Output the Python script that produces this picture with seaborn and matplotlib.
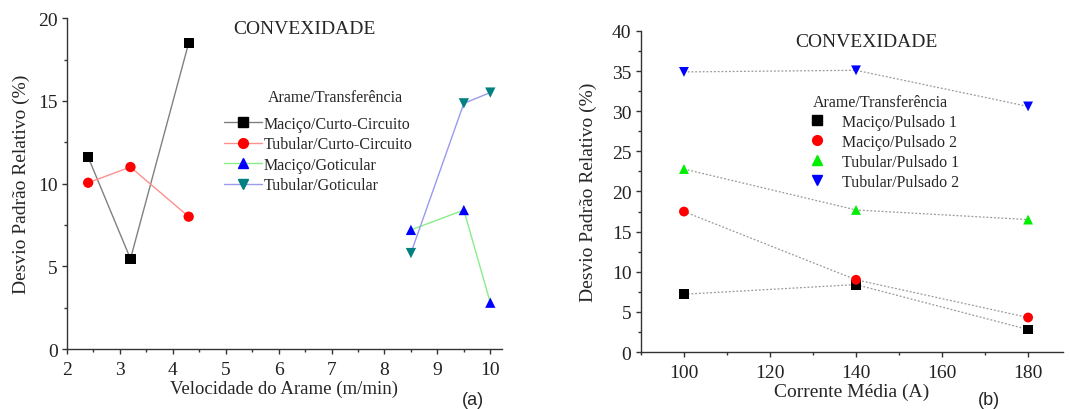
import matplotlib
matplotlib.use("Agg")
import matplotlib.pyplot as plt
from matplotlib.lines import Line2D
from matplotlib.ticker import MultipleLocator
import seaborn as sns
import pandas as pd

# ---- data panel (a) ----
a_series = ["Maciço/Curto-Circuito", "Tubular/Curto-Circuito", "Maciço/Goticular", "Tubular/Goticular"]
a_x_cc = [2.4, 3.2, 4.3]
a_x_got = [8.5, 9.5, 10.0]
a_mac_cc = [11.6, 5.45, 18.5]
a_tub_cc = [10.05, 11.0, 8.0]
a_mac_got = [7.2, 8.4, 2.8]
a_tub_got = [5.8, 14.85, 15.5]

# ---- data panel (b) ----
b_series = ["Maciço/Pulsado 1", "Maciço/Pulsado 2", "Tubular/Pulsado 1", "Tubular/Pulsado 2"]
b_x = [100, 140, 180]
b_mac_p1 = [7.2, 8.4, 2.8]
b_mac_p2 = [17.5, 9.0, 4.3]
b_tub_p1 = [22.8, 17.7, 16.5]
b_tub_p2 = [34.9, 35.1, 30.6]

sns.set_theme(style="ticks")
plt.rcParams["font.family"] = ["Liberation Serif", "DejaVu Serif"]
plt.rcParams["axes.linewidth"] = 1.0
plt.rcParams["xtick.direction"] = "out"
plt.rcParams["ytick.direction"] = "out"

rows = []
for name, xs, ys in zip(a_series, [a_x_cc, a_x_cc, a_x_got, a_x_got],
                        [a_mac_cc, a_tub_cc, a_mac_got, a_tub_got]):
    for x, y in zip(xs, ys):
        rows.append({"x": x, "y": y, "s": name})
dfa = pd.DataFrame(rows)

rows = []
for name, ys in zip(b_series, [b_mac_p1, b_mac_p2, b_tub_p1, b_tub_p2]):
    for x, y in zip(b_x, ys):
        rows.append({"x": x, "y": y, "s": name})
dfb = pd.DataFrame(rows)

fig = plt.figure(figsize=(10.7, 4.1), dpi=100)
axa = fig.add_axes([0.0626, 0.1463, 0.4065, 0.807])
axb = fig.add_axes([0.599, 0.139, 0.394, 0.783])

# panel a
a_line_colors = ["#808080", "#ff9090", "#88ee88", "#9a9aee"]
a_mark_colors = ["#000000", "#ff0000", "#0000ff", "#008080"]
a_markers = ["s", "o", "^", "v"]
sns.lineplot(data=dfa, x="x", y="y", hue="s", hue_order=a_series,
             palette=a_line_colors, ax=axa, legend=False, lw=1.0, sort=False,
             estimator=None)
for name, c, m in zip(a_series, a_mark_colors, a_markers):
    sub = dfa[dfa["s"] == name]
    sns.scatterplot(data=sub, x="x", y="y", color=c, marker=m, s=55,
                    edgecolor="none", ax=axa, legend=False, zorder=3)

axa.set_xlim(2, 10.22)
axa.set_ylim(0, 20)
axa.xaxis.set_major_locator(MultipleLocator(1))
axa.xaxis.set_minor_locator(MultipleLocator(0.5))
axa.yaxis.set_major_locator(MultipleLocator(5))
axa.yaxis.set_minor_locator(MultipleLocator(2.5))
axa.set_xlabel("Velocidade do Arame (m/min)", fontsize=13.5, labelpad=1)
axa.set_ylabel("Desvio Padrão Relativo (%)", fontsize=14, labelpad=6)
axa.text(0.547, 0.995, "CONVEXIDADE", transform=axa.transAxes, ha="center",
         va="top", fontsize=14)
axa.text(0.616, 0.761, "Arame/Transferência", transform=axa.transAxes,
         ha="center", va="center", fontsize=11.5)
handles = [Line2D([], [], color=lc, marker=m, markerfacecolor=mc,
                  markeredgecolor=mc, markersize=7, lw=1.0)
           for lc, mc, m in zip(a_line_colors, a_mark_colors, a_markers)]
axa.legend(handles, a_series, frameon=False,
           fontsize=11.5, loc="upper left",
           bbox_to_anchor=(0.361, 0.705), handlelength=2.4,
           handletextpad=0.1, labelspacing=0.28, borderpad=0,
           borderaxespad=0)
fig.text(0.432, 0.012, "(a)", fontsize=13, family="Liberation Sans")

# panel b
b_mark_colors = ["#000000", "#ff0000", "#00ee00", "#0000ff"]
b_markers = ["s", "o", "^", "v"]
sns.lineplot(data=dfb, x="x", y="y", hue="s", hue_order=b_series,
             palette=["#999999"] * 4, ax=axb, legend=False, lw=0.9,
             linestyle=(0, (1.5, 1.5)), estimator=None)
for name, c, m in zip(b_series, b_mark_colors, b_markers):
    sub = dfb[dfb["s"] == name]
    sns.scatterplot(data=sub, x="x", y="y", color=c, marker=m, s=50,
                    edgecolor="none", ax=axb, legend=False, zorder=3)

axb.set_xlim(90, 188)
axb.set_ylim(0, 40)
axb.xaxis.set_major_locator(MultipleLocator(20))
axb.xaxis.set_minor_locator(MultipleLocator(10))
axb.yaxis.set_major_locator(MultipleLocator(5))
axb.yaxis.set_minor_locator(MultipleLocator(2.5))
axb.set_xlabel("Corrente Média (A)", fontsize=14, labelpad=1)
axb.set_ylabel("Desvio Padrão Relativo (%)", fontsize=14, labelpad=11)
axb.text(0.535, 0.995, "CONVEXIDADE", transform=axb.transAxes, ha="center",
         va="top", fontsize=14)
handles = [Line2D([], [], color="none", marker=m, markerfacecolor=mc,
                  markeredgecolor=mc, markersize=7, lw=0)
           for mc, m in zip(b_mark_colors, b_markers)]
axb.legend(handles, b_series, title="Arame/Transferência", frameon=False,
           fontsize=11.5, title_fontsize=11.5, loc="upper left",
           bbox_to_anchor=(0.36, 0.83), handlelength=2.0,
           handletextpad=0.6, labelspacing=0.25, borderpad=0)
fig.text(0.914, 0.012, "(b)", fontsize=13, family="Liberation Sans")

for ax in (axa, axb):
    sns.despine(ax=ax)
    ax.tick_params(axis="both", which="major", length=3.8, width=1,
                   labelsize=14, pad=3, color="#333333", labelcolor="#222222")
    ax.tick_params(axis="both", which="minor", length=2.3, width=1,
                   color="#333333")
    ax.tick_params(axis="x", which="major", pad=5)
    for sp in ("left", "bottom"):
        ax.spines[sp].set_color("#333333")

fig.savefig("out.png", dpi=100)
